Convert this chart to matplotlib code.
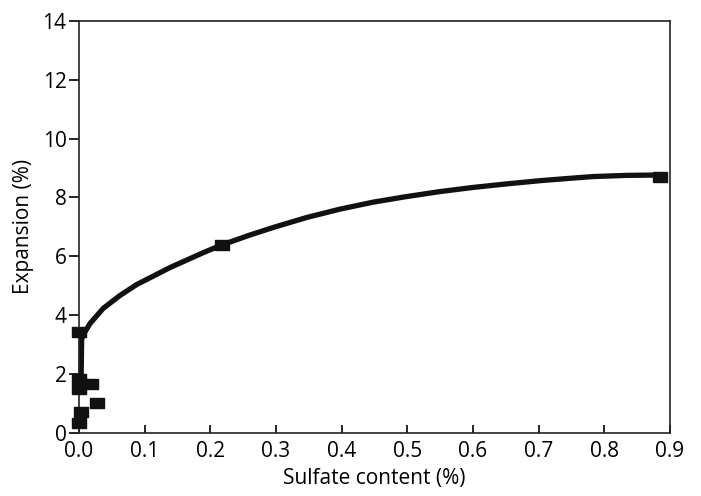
import numpy as np
import matplotlib
matplotlib.use("Agg")
import matplotlib.pyplot as plt

plt.rcParams['font.family'] = ['Open Sans', 'DejaVu Sans']

# measured points
sulfate = [0.0, 0.0, 0.001, 0.0, 0.019, 0.027, 0.003, 0.0, 0.217, 0.884]
expansion = [3.42, 1.83, 1.65, 1.50, 1.66, 1.00, 0.71, 0.32, 6.38, 8.70]

# fitted curve
curve_x = [0.003, 0.004, 0.0056, 0.017, 0.037, 0.062, 0.088, 0.139, 0.189,
           0.217, 0.260, 0.296, 0.347, 0.397, 0.448, 0.499, 0.550, 0.600,
           0.651, 0.702, 0.753, 0.783, 0.834, 0.874]
curve_y = [1.45, 3.15, 3.30, 3.72, 4.23, 4.66, 5.04, 5.62, 6.12,
           6.38, 6.72, 6.98, 7.32, 7.60, 7.84, 8.03, 8.20, 8.34,
           8.46, 8.57, 8.66, 8.71, 8.75, 8.76]

x_ticks = [0.0, 0.1, 0.2, 0.3, 0.4, 0.5, 0.6, 0.7, 0.8, 0.9]
y_ticks = [0, 2, 4, 6, 8, 10, 12, 14]

fig = plt.figure(figsize=(7.01, 4.96), dpi=100)
ax = fig.add_axes([0.1127, 0.1276, 0.8431, 0.8301])

ax.plot(curve_x, curve_y, color='#111111', lw=3.8, solid_capstyle='butt',
        solid_joinstyle='round', zorder=2, clip_on=False)
rect = [(-1.5, -1), (1.5, -1), (1.5, 1), (-1.5, 1), (-1.5, -1)]
ax.plot(sulfate, expansion, ls='none', marker=rect, ms=10, color='#111111',
        zorder=3, clip_on=False)

ax.set_xlim(0, 0.9)
ax.set_ylim(0, 14)
ax.set_xticks(x_ticks)
ax.set_xticklabels([f"{t:.1f}" for t in x_ticks])
ax.set_yticks(y_ticks)
ax.tick_params(axis='x', direction='in', length=6, width=1.2, labelsize=15, pad=6)
ax.tick_params(axis='y', direction='out', length=7, width=1.2, labelsize=15, pad=2)
for s in ax.spines.values():
    s.set_linewidth(1.2)
    s.set_color('#222222')

ax.set_xlabel("Sulfate content (%)", fontsize=15, labelpad=4)
ax.set_ylabel("Expansion (%)", fontsize=15, labelpad=6)

fig.savefig("out.png", dpi=100)
